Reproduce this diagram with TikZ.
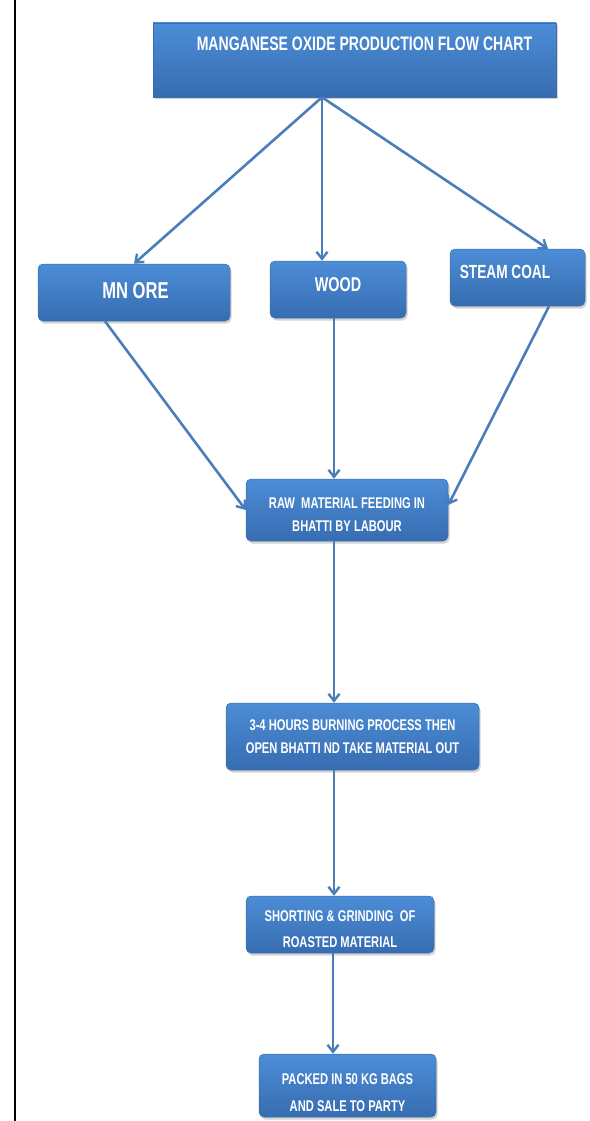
\documentclass[tikz,border=0pt]{standalone}
\usepackage{fontspec}
\setmainfont{Liberation Sans}[FakeStretch=0.72]
\usetikzlibrary{arrows.meta,shadows,calc}
\definecolor{boxtop}{RGB}{76,141,215}
\definecolor{boxbot}{RGB}{55,108,177}
\definecolor{boxedge}{RGB}{60,110,175}
\definecolor{arrowc}{RGB}{74,126,187}
\tikzset{
  box/.style={rectangle, rounded corners=5pt, top color=boxtop, bottom color=boxbot,
    draw=boxedge, line width=0.5pt, text=white, font=\bfseries, align=center,
    inner sep=0pt, drop shadow={opacity=0.35, shadow xshift=1.5pt, shadow yshift=-2.5pt}},
  arr/.style={draw=arrowc, line width=2.6pt, -{Straight Barb[length=7pt,width=11pt,line width=2.4pt]}},
  ttxt/.style={text=white, anchor=center, font=\fontsize{19.5}{22}\bfseries\selectfont},
  stxt/.style={text=white, anchor=center, align=center, font=\fontsize{15.5}{23}\bfseries\selectfont},
  stxtb/.style={stxt, font=\fontsize{15.5}{26.5}\bfseries\selectfont}
}
\begin{document}
\begin{tikzpicture}[x=1pt,y=-1pt]
\useasboundingbox (0,0) rectangle (589,1121);
\draw[line width=2pt] (15,0) -- (15,1121);
% title
\node[box, rounded corners=0pt, minimum width=403pt, minimum height=74pt,
  label={[ttxt, xshift=10pt, yshift=16pt]center:MANGANESE OXIDE PRODUCTION FLOW CHART}]
  (title) at (354.5,60) {};
% level 1
\node[box, minimum width=192pt, minimum height=57pt,
  label={[ttxt, font=\fontsize{23}{26}\bfseries\selectfont, xshift=1.5pt, yshift=2pt]center:MN ORE}] (mnore) at (134,292.5) {};
\node[box, minimum width=136pt, minimum height=57pt,
  label={[ttxt, font=\fontsize{20}{24}\bfseries\selectfont, yshift=4.5pt]center:WOOD}] (wood) at (338,289.5) {};
\node[box, minimum width=135pt, minimum height=57pt,
  label={[ttxt, font=\fontsize{19}{22}\bfseries\selectfont, xshift=-12.5pt, yshift=5.5pt]center:STEAM COAL}] (steam) at (517.5,277.5) {};
% process chain
\node[box, minimum width=202pt, minimum height=62pt,
  label={[stxt, yshift=-5pt]center:RAW\ \ MATERIAL FEEDING IN\\BHATTI BY LABOUR}] (raw) at (347,510) {};
\node[box, minimum width=253pt, minimum height=67pt,
  label={[stxt, yshift=0pt]center:3-4 HOURS BURNING PROCESS THEN\\OPEN BHATTI ND TAKE MATERIAL OUT}] (burn) at (352.5,736.5) {};
\node[box, minimum width=188pt, minimum height=57pt,
  label={[stxtb, yshift=-4.5pt]center:SHORTING \& GRINDING\ \ OF\\ROASTED MATERIAL}] (sort) at (340,924.5) {};
\node[box, minimum width=177pt, minimum height=63pt,
  label={[stxtb, yshift=-7pt]center:PACKED IN 50 KG BAGS\\AND SALE TO PARTY}] (pack) at (347.5,1085.5) {};
% arrows from title
\draw[arr] ([xshift=-32.5pt]title.south) -- (mnore.north);
\draw[arr] ([xshift=-32.5pt]title.south) -- ([xshift=-16pt]wood.north);
\draw[arr] ([xshift=-32.5pt]title.south) -- ([xshift=30.5pt]steam.north);
% into raw
\draw[arr] ([xshift=-29pt]mnore.south) -- (raw.west);
\draw[arr] ([xshift=-4pt]wood.south) -- ([xshift=-13pt]raw.north);
\draw[arr] ([xshift=31.5pt]steam.south) -- ([yshift=5pt]raw.east);
% chain
\draw[arr] ([xshift=-13pt]raw.south) coordinate (r1) -- (r1 |- burn.north);
\draw[arr] ([xshift=-18.5pt]burn.south) coordinate (r2) -- (r2 |- sort.north);
\draw[arr] ([xshift=-7pt]sort.south) coordinate (r3) -- (r3 |- pack.north);
\end{tikzpicture}
\end{document}
